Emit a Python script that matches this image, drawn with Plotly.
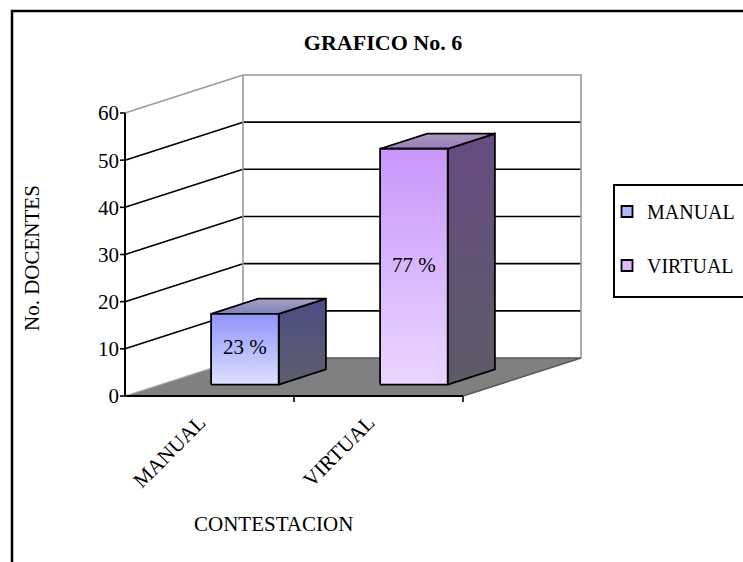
import plotly.graph_objects as go

# ---------------- data ----------------
categories = ["MANUAL", "VIRTUAL"]
values = [15, 50]
pct_labels = ["23 %", "77 %"]
y_ticks = [0, 10, 20, 30, 40, 50, 60]
legend_names = ["MANUAL", "VIRTUAL"]

# ---------------- style ----------------
FONT = "Liberation Serif, Times New Roman, serif"
FS = 21
front_grad = [("#dde0ff", "#8f94f9"), ("#ead6ff", "#c896fa")]   # (bottom, top)
side_grad = [("#5e5e6e", "#4b4d82"), ("#5e5a66", "#664b82")]
top_grad = [("#8080b8", "#a4a4c4"), ("#997cc0", "#a898b8")]
legend_colors = ["#b4b6fc", "#dcb8fc"]

W, H = 743, 562
PX_PER_CAT = 169.0
PX_PER_UNIT = 4.717
DX = 118 / PX_PER_CAT          # depth offset (category units)
DY = 38 / PX_PER_UNIT          # depth offset (value units)
BAR_W = 0.4
F_FRONT, F_BACK = 0.3, 0.7

plot_left, plot_right, plot_top, plot_bottom = 120, 590, 70, 402
PW = plot_right - plot_left
PH = plot_bottom - plot_top
x_front0 = -0.5
x_front1 = len(categories) - 0.5
xr0 = x_front0 - (125 - plot_left) / PX_PER_CAT
xr1 = xr0 + PW / PX_PER_CAT
yr0 = -(plot_bottom - 396) / PX_PER_UNIT
yr1 = yr0 + PH / PX_PER_UNIT
ymax = y_ticks[-1]


def px_x(p):
    return (p - plot_left) / PW


def px_y(p):
    return (plot_bottom - p) / PH


fig = go.Figure()


def line_trace(xs, ys, color, width):
    return go.Scatter(x=xs, y=ys, mode="lines", line=dict(color=color, width=width),
                      showlegend=False, hoverinfo="skip")


# walls gridlines
gx, gy, bx, by = [], [], [], []
for v in y_ticks[1:-1]:
    gx += [x_front0, x_front0 + DX, None]
    gy += [v, v + DY, None]
    bx += [x_front0 + DX, x_front1 + DX, None]
    by += [v + DY, v + DY, None]
fig.add_trace(line_trace(gx, gy, "black", 1.6))
fig.add_trace(line_trace(bx, by, "black", 1.6))
# wall outer edges (gray)
fig.add_trace(line_trace(
    [x_front0, x_front0 + DX, x_front1 + DX, x_front1 + DX, None, x_front0 + DX, x_front0 + DX],
    [ymax, ymax + DY, ymax + DY, DY, None, DY, ymax + DY], "#9a9a9a", 1.6))

# floor
fig.add_trace(go.Scatter(
    x=[x_front0, x_front1, x_front1 + DX, x_front0 + DX, x_front0],
    y=[0, 0, DY, DY, 0], mode="lines", fill="toself", fillcolor="#808080",
    line=dict(color="#808080", width=0.5), showlegend=False, hoverinfo="skip"))
fig.add_trace(line_trace([x_front1, x_front1 + DX, x_front0 + DX],
                         [0, DY, DY], "#5a5a5a", 1.5))
fig.add_trace(line_trace([x_front0, x_front0 + DX], [0, DY], "#b0b0b0", 1.2))

# front axes lines + ticks
fig.add_trace(line_trace([x_front0, x_front0, None, x_front0, x_front1],
                         [0, ymax, None, 0, 0], "black", 2))
tx, ty = [], []
for v in y_ticks:
    tx += [x_front0 - 7 / PX_PER_CAT, x_front0, None]
    ty += [v, v, None]
for i in range(len(categories)):
    b = i + 0.5
    tx += [b, b, None]
    ty += [0, -6 / PX_PER_UNIT, None]
fig.add_trace(line_trace(tx, ty, "black", 1.6))

# bars (3D)
for i, v in enumerate(values):
    x0 = i - BAR_W / 2 + F_FRONT * DX
    x1 = i + BAR_W / 2 + F_FRONT * DX
    yb = F_FRONT * DY
    yt = yb + v
    ddx = (F_BACK - F_FRONT) * DX
    ddy = (F_BACK - F_FRONT) * DY
    faces = [
        ([x1, x1 + ddx, x1 + ddx, x1, x1], [yb, yb + ddy, yt + ddy, yt, yb], side_grad[i]),
        ([x0, x1, x1 + ddx, x0 + ddx, x0], [yt, yt, yt + ddy, yt + ddy, yt], top_grad[i]),
        ([x0, x1, x1, x0, x0], [yb, yb, yt, yt, yb], front_grad[i]),
    ]
    for fx, fy, (cb, ct) in faces:
        fig.add_trace(go.Scatter(
            x=fx, y=fy, mode="lines", fill="toself",
            fillgradient=dict(type="vertical", colorscale=[[0, cb], [1, ct]]),
            line=dict(color="black", width=1.8), showlegend=False, hoverinfo="skip"))

# data labels
fig.add_trace(go.Scatter(
    x=[i + F_FRONT * DX for i in range(len(values))],
    y=[F_FRONT * DY + v / 2 for v in values],
    mode="text", text=pct_labels, textfont=dict(family=FONT, size=FS, color="black"),
    showlegend=False, hoverinfo="skip"))

# legend entries
for i, name in enumerate(legend_names):
    fig.add_trace(go.Scatter(
        x=[None], y=[None], mode="markers", name=name, legendgroup=name,
        marker=dict(symbol="square", size=11, color=legend_colors[i],
                    line=dict(color="black", width=1.8))))

fig.update_layout(
    width=W, height=H,
    margin=dict(l=plot_left, r=W - plot_right, t=plot_top, b=H - plot_bottom, pad=0,
                autoexpand=False),
    paper_bgcolor="white", plot_bgcolor="white",
    font=dict(family=FONT, size=FS, color="black"),
    hovermode=False,
    title=dict(text="<b>GRAFICO No. 6</b>", x=383 / W, y=1 - 42 / H,
               xref="container", yref="container", xanchor="center", yanchor="middle",
               font=dict(family=FONT, size=22, color="black")),
    xaxis=dict(range=[xr0, xr1], tickvals=list(range(len(categories))), ticktext=categories,
               tickangle=-45, ticks="", showgrid=False, zeroline=False, showline=False,
               ticklabelstandoff=3, ticklabelshift=-10,
               tickfont=dict(family=FONT, size=FS, color="black"), fixedrange=True),
    yaxis=dict(range=[yr0, yr1], tickvals=y_ticks, ticks="", showgrid=False, zeroline=False,
               showline=False, tickfont=dict(family=FONT, size=FS, color="black"),
               fixedrange=True),
    legend=dict(x=px_x(607), y=px_y(192),
                xanchor="left", yanchor="top", bgcolor="rgba(0,0,0,0)",
                borderwidth=0, tracegroupgap=25,
                font=dict(family=FONT, size=20, color="black")),
    annotations=[
        dict(text="No. DOCENTES", textangle=-90, showarrow=False,
             xref="paper", yref="paper", x=px_x(32), y=px_y(258),
             xanchor="center", yanchor="middle", font=dict(family=FONT, size=FS)),
        dict(text="CONTESTACION", showarrow=False, xref="paper", yref="paper",
             x=px_x(273), y=px_y(524),
             xanchor="center", yanchor="middle", font=dict(family=FONT, size=FS)),
    ],
    shapes=[
        dict(type="rect", xref="paper", yref="paper",
             x0=px_x(12), y1=px_y(11), x1=px_x(760), y0=px_y(575),
             line=dict(color="black", width=2.5)),
        dict(type="rect", xref="paper", yref="paper",
             x0=px_x(614), y1=px_y(185), x1=px_x(760), y0=px_y(297),
             line=dict(color="black", width=2)),
    ],
)

fig.write_html("out.html", config={"displayModeBar": False},
               post_script="document.body.style.margin='0';")
